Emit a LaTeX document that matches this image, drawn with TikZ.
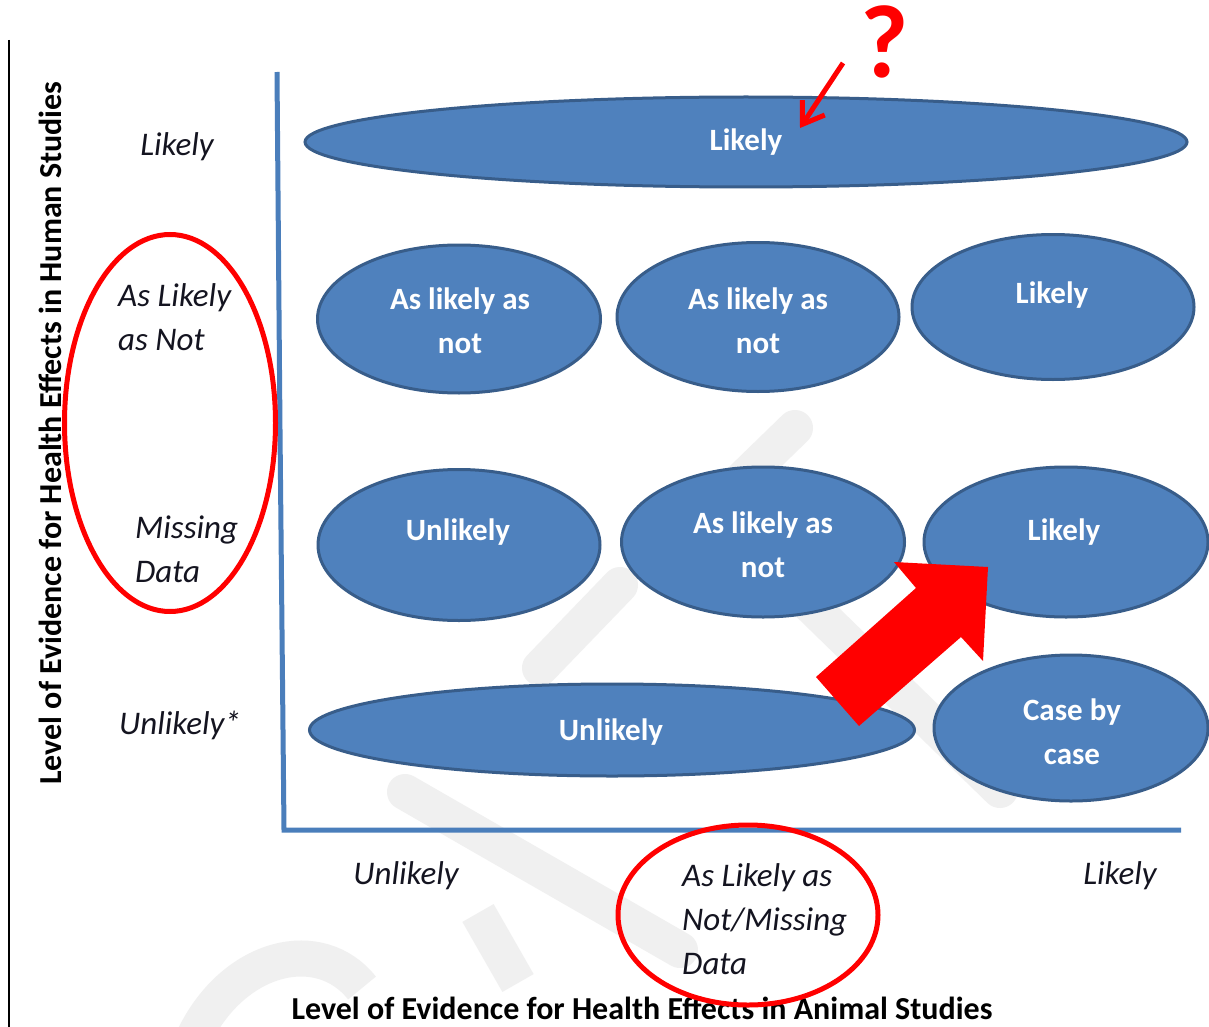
\documentclass[tikz,border=0pt]{standalone}
\usepackage{fontspec}
\setmainfont{Carlito}
\usetikzlibrary{shapes.geometric,arrows.meta}
\definecolor{ellblue}{HTML}{4F81BD}
\definecolor{ellborder}{HTML}{385D8A}
\definecolor{axblue}{HTML}{4A7EBB}
\definecolor{wmgray}{HTML}{F0F0F0}
\definecolor{labcol}{HTML}{141420}
\newcommand\myellfont{\fontsize{31}{44}\selectfont\bfseries}
\newcommand\mylabfont{\fontsize{33}{44}\selectfont\itshape}
\newcommand\mytitlefont{\fontsize{32}{36}\selectfont\bfseries}
\tikzset{
  blueell/.style={ellipse, fill=ellblue, draw=ellborder, line width=3pt, inner sep=0pt},
  elltext/.style={text=white, font=\myellfont, align=center, inner sep=0pt},
  axlabel/.style={text=labcol, font=\mylabfont, inner sep=0pt},
  redring/.style={ellipse, draw=red, line width=5pt, inner sep=0pt},
  wm/.style={draw=wmgray, line width=36pt, line cap=round},
  axisline/.style={draw=axblue, line width=5pt, line join=miter}
}
\begin{document}
\begin{tikzpicture}[x=1pt,y=-1pt]
\useasboundingbox (0,0) rectangle (1209,1027);
\fill[white] (0,0) rectangle (1209,1027);
% watermark
\draw[wm] (795,428) -- (690,530);
\draw[wm] (620,585) -- (540,668);
\draw[wm] (805,600) -- (1000,790);
\draw[wm] (405,792) -- (680,950);
\draw[wm, line cap=butt] (478,913) -- (518,983);
\draw[wm, line cap=butt] (195,1035) .. controls (235,955) and (320,935) .. (362,988);
% left border line
\draw[black, line width=2pt] (9,40) -- (9,1027);
% axes
\coordinate (ytop) at (277,72);
\coordinate (ymid) at (280,430);
\coordinate (orig) at (284,830);
\coordinate (xend) at (1181,830);
\draw[axisline] (ytop) -- (ymid) -- (orig) -- (xend);
% axis titles
\node[font=\mytitlefont, rotate=90, inner sep=0pt] (ytitle) at (50,433) {Level of Evidence for Health Effects in Human Studies};
\node[font=\mytitlefont, inner sep=0pt] (xtitle) at (642,1008) {Level of Evidence for Health Effects in Animal Studies};
% row labels
\node[axlabel, anchor=base] (rl1) at (177,156) {Likely};
\node[axlabel, align=left, anchor=west] (rl2) at (118,317) {As Likely\\as Not};
\node[axlabel, align=left, anchor=west] (rl3) at (135,549) {Missing\\Data};
\node[axlabel, anchor=base] (rl4) at (180,734) {Unlikely*};
% column labels
\node[axlabel, anchor=base] (cl1) at (406,884) {Unlikely};
\node[axlabel, align=left, anchor=west] (cl2) at (682,919) {As Likely as\\Not/Missing\\Data};
\node[axlabel, anchor=base] (cl3) at (1120,884) {Likely};
% blue ellipses
\node[blueell, minimum width=882, minimum height=90] (e0) at (746,142) {};
\node[blueell, minimum width=283, minimum height=148] (e1) at (459,319) {};
\node[blueell, minimum width=282, minimum height=149] (e2) at (758,317) {};
\node[blueell, minimum width=282, minimum height=145] (e3) at (1053,307) {};
\node[blueell, minimum width=282, minimum height=151] (e4) at (459,545) {};
\node[blueell, minimum width=283, minimum height=150] (e5) at (763,542) {};
\node[blueell, minimum width=284, minimum height=150] (e6) at (1066,542) {};
\node[blueell, minimum width=605, minimum height=92] (e7) at (612,730) {};
\node[blueell, minimum width=274, minimum height=146] (e8) at (1071,728) {};
% ellipse texts
\node[elltext, anchor=base] (t0) at (746,151) {Likely};
\node[elltext] (t1) at (460,321) {As likely as\\not};
\node[elltext] (t2) at (758,321) {As likely as\\not};
\node[elltext, anchor=base] (t3) at (1052,303) {Likely};
\node[elltext, anchor=base] (t4) at (458,540) {Unlikely};
\node[elltext] (t5) at (763,545) {As likely as\\not};
\node[elltext, anchor=base] (t6) at (1064,540) {Likely};
\node[elltext, anchor=base] (t7) at (611,740) {Unlikely};
\node[elltext] (t8) at (1072,732) {Case by\\case};
% red rings
\node[redring, minimum width=211, minimum height=377] (ring1) at (170,423) {};
\node[redring, minimum width=260, minimum height=180] (ring2) at (748,915) {};
% question mark and small arrow
\node[text=red, font=\fontsize{104}{104}\selectfont\bfseries, inner sep=0pt] (qm) at (885,42) {?};
\coordinate (qtail) at (843,63);
\coordinate (qtip) at (800,128);
\draw[red, line width=5pt, -{Straight Barb[length=20pt,width=27pt]}] (qtail) -- (qtip);
% big red block arrow
\fill[red] (816,677) -- (916,588) -- (894,562) -- (988,567) -- (983,661) -- (961,637) -- (859,726) -- cycle;
\end{tikzpicture}
\end{document}
